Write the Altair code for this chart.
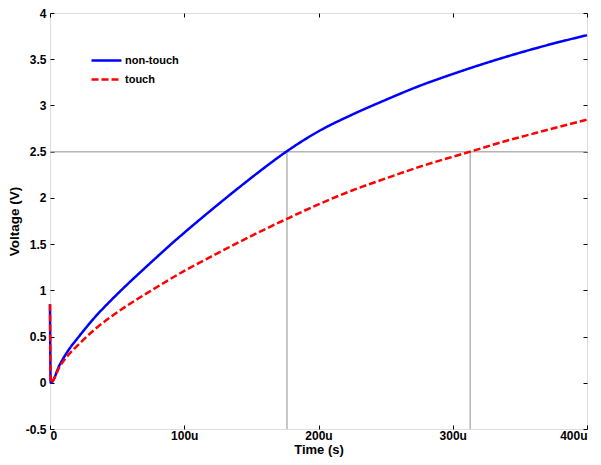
import altair as alt
import pandas as pd

# time in microseconds
t_non = [0, 0.5, 7.4, 13.6, 21, 33.5, 46, 58, 70.6, 83, 90, 100, 120, 146, 160, 176,
         200, 225, 250, 275, 300, 325, 350, 375, 400]
v_non = [0.85, 0.0, 0.20, 0.35, 0.49, 0.71, 0.90, 1.07, 1.24, 1.405, 1.497, 1.623, 1.867, 2.172, 2.33, 2.50,
         2.72, 2.90, 3.06, 3.21, 3.34, 3.46, 3.57, 3.67, 3.76]

t_touch = [0, 0.5, 7.4, 13.6, 21, 33.5, 46, 58, 70.6, 83, 100, 120, 140, 160, 176,
           200, 225, 250, 275, 300, 313, 337, 360, 380, 400]
v_touch = [0.85, 0.0, 0.18, 0.30, 0.41, 0.58, 0.72, 0.84, 0.955, 1.065, 1.21, 1.365, 1.515, 1.66, 1.77,
           1.93, 2.08, 2.21, 2.335, 2.445, 2.50, 2.605, 2.695, 2.772, 2.846]

series_names = ["non-touch", "touch"]
series_colors = ["#0000ff", "#ff0000"]

h_ref = [2.5]
v_ref_t = [176.5, 313]
v_ref_lo = [-0.5, -0.5]
v_ref_hi = [2.5, 2.5]

x_ticks = [0, 100, 200, 300, 400]
y_ticks = [-0.5, 0, 0.5, 1, 1.5, 2, 2.5, 3, 3.5, 4]

df = pd.concat([
    pd.DataFrame({"t": t_non, "v": v_non, "series": series_names[0], "ord": range(len(t_non))}),
    pd.DataFrame({"t": t_touch, "v": v_touch, "series": series_names[1], "ord": range(len(t_touch))}),
])
href = pd.DataFrame({"v": h_ref})
vref = pd.DataFrame({"t": v_ref_t, "y0": v_ref_lo, "y1": v_ref_hi})

FONT = "Liberation Sans"
xscale = alt.Scale(domain=[0, 400], nice=False, zero=False)
yscale = alt.Scale(domain=[-0.5, 4], nice=False, zero=False)
GRAY = "#b4b4b4"

txt = dict(labelFont=FONT, labelFontWeight="bold", labelFontSize=12, labelColor="black",
           titleFont=FONT, titleFontWeight="bold", titleColor="black")

hrule = alt.Chart(href).mark_rule(color=GRAY, strokeWidth=1.5).encode(
    y=alt.Y("v:Q", scale=yscale, axis=None)
)

vrule = alt.Chart(vref).mark_rule(color=GRAY, strokeWidth=1.5).encode(
    x=alt.X("t:Q", scale=xscale,
            axis=alt.Axis(orient="top", values=x_ticks, labels=False, title=None,
                          domain=False, grid=False, offset=-4, tickSize=4,
                          tickColor="black", tickWidth=1)),
    y=alt.Y("y0:Q", scale=yscale,
            axis=alt.Axis(orient="right", values=y_ticks, labels=False, title=None,
                          domain=False, grid=False, offset=-4, tickSize=4,
                          tickColor="black", tickWidth=1)),
    y2="y1:Q",
)

leg = dict(title=None, orient="none", legendX=49, legendY=40,
           symbolType="M-2.5,0H2.5", symbolSize=144,
           symbolStrokeWidth=2.5, labelOffset=11,
           rowPadding=6, padding=0,
           labelFont=FONT, labelFontWeight="bold",
           labelFontSize=11, labelColor="black")

lines = alt.Chart(df).mark_line(strokeWidth=2.5, interpolate="monotone").encode(
    x=alt.X("t:Q", scale=xscale,
            axis=alt.Axis(orient="bottom", values=x_ticks, title="Time (s)",
                          labelExpr="datum.value == 0 ? '0' : format(datum.value, 'd') + 'u'",
                          domain=False, grid=False, offset=-4, tickSize=4,
                          tickColor="black", tickWidth=1, labelPadding=1,
                          titlePadding=2, titleFontSize=13, **txt)),
    y=alt.Y("v:Q", scale=yscale,
            axis=alt.Axis(orient="left", values=y_ticks, title="Voltage (V)",
                          labelExpr="datum.value < 0 ? '-' + format(-datum.value, '~g') : format(datum.value, '~g')",
                          domain=False, grid=False, offset=-4, tickSize=4,
                          tickColor="black", tickWidth=1, labelPadding=4,
                          titlePadding=4, titleFontSize=13.5, **txt)),
    color=alt.Color("series:N", scale=alt.Scale(domain=series_names, range=series_colors),
                    legend=alt.Legend(**leg)),
    strokeDash=alt.StrokeDash("series:N",
                              scale=alt.Scale(domain=series_names, range=[[1, 0], [7, 3]]),
                              legend=alt.Legend(**leg)),
    order="ord:Q",
)

chart = alt.layer(hrule, vrule, lines).properties(
    width=537, height=416,
    autosize=alt.AutoSizeParams(type="none"),
    padding={"left": 42, "top": 5, "right": 6, "bottom": 28},
).configure_view(
    stroke="black", strokeWidth=1.5
).configure(background="white")

chart.save("out.html", embed_options={"renderer": "svg", "actions": False})
